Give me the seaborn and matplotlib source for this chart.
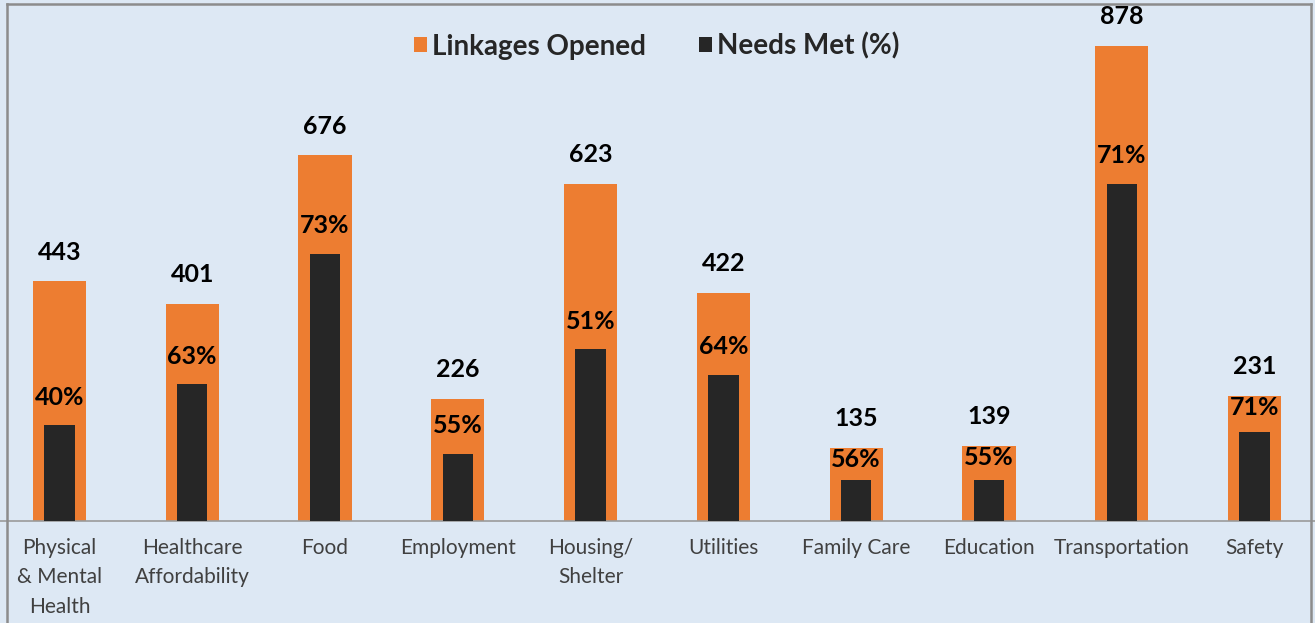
import matplotlib
matplotlib.use("Agg")
import matplotlib.pyplot as plt
from matplotlib.patches import Patch
from matplotlib.lines import Line2D
import numpy as np
import pandas as pd
import seaborn as sns

# Data
categories = ["Physical\n& Mental\nHealth", "Healthcare\nAffordability", "Food", "Employment",
              "Housing/\nShelter", "Utilities", "Family Care", "Education", "Transportation", "Safety"]
linkages_opened = [443, 401, 676, 226, 623, 422, 135, 139, 878, 231]
needs_met_pct = [40, 63, 73, 55, 51, 64, 56, 55, 71, 71]

ORANGE = "#ed7d31"
DARK = "#262626"
BG = "#dde8f4"
TEXT = "#404040"

df = pd.DataFrame({
    "category": categories,
    "opened": linkages_opened,
    "pct": needs_met_pct,
})
df["met"] = df["opened"] * df["pct"] / 100.0

sns.set_theme(style="white")
plt.rcParams["font.family"] = ["Lato", "DejaVu Sans"]

W, H = 1315, 623
fig = plt.figure(figsize=(W / 100, H / 100), dpi=100, facecolor=BG)
ax = fig.add_axes([-7 / W, (H - 521) / H, 1328 / W, 516 / H])
ax.set_facecolor(BG)

sns.barplot(data=df, x="category", y="opened", color=ORANGE, width=0.40,
            saturation=1, linewidth=0, ax=ax, zorder=2)
sns.barplot(data=df, x="category", y="met", color=DARK, width=0.23,
            saturation=1, linewidth=0, ax=ax, zorder=3)

ax.set_xlim(-0.5, len(categories) - 0.5)
ax.set_ylim(0, 954)
ax.set_xlabel("")
ax.set_ylabel("")
ax.set_yticks([])

for s in ["top", "right", "left"]:
    ax.spines[s].set_visible(False)
ax.spines["bottom"].set_color("#9a9a9a")
ax.spines["bottom"].set_linewidth(1.2)

ax.set_xticks(range(len(categories)))
ax.set_xticklabels(categories, fontsize=15, color=TEXT, linespacing=1.6, va="top")
ax.tick_params(axis="x", which="major", length=0, pad=12)
ax.set_xticks(np.arange(0.5, len(categories) - 0.5, 1.0), minor=True)
ax.tick_params(axis="x", which="minor", length=6, color="#9a9a9a", width=1.2)

# Value labels
for i, row in df.iterrows():
    ax.annotate(f"{row['opened']:d}", (i, row["opened"]), xytext=(0, 21),
                textcoords="offset points", ha="center", va="center",
                fontsize=18, fontweight="bold", color="black", zorder=5)
    y_pct = min(row["met"] + 52, row["opened"] - 22)
    ax.text(i, y_pct, f"{row['pct']:d}%", ha="center", va="center",
            fontsize=18, fontweight="bold", color="black", zorder=5)

handles = [Patch(facecolor=ORANGE, edgecolor="none", label="Linkages Opened"),
           Patch(facecolor=DARK, edgecolor="none", label="Needs Met (%)")]
fig.legend(handles=handles, loc="center", bbox_to_anchor=(657 / W, 1 - 46 / H), ncol=2,
           frameon=False, handlelength=0.45, handleheight=0.45, handletextpad=0.2,
           columnspacing=1.9, prop={"size": 20, "weight": "bold"})

# Outer frame (top, left, right)
x0, x1, ytop = 7 / W, 1311 / W, 1 - 3.5 / H
for xs, ys in [([x0, x1], [ytop, ytop]), ([x0, x0], [-0.01, ytop]), ([x1, x1], [-0.01, ytop])]:
    fig.add_artist(Line2D(xs, ys, transform=fig.transFigure, color="#8c8c8c",
                          linewidth=1.8, solid_capstyle="projecting", zorder=10))

fig.savefig("out.png", dpi=100, facecolor=BG)
